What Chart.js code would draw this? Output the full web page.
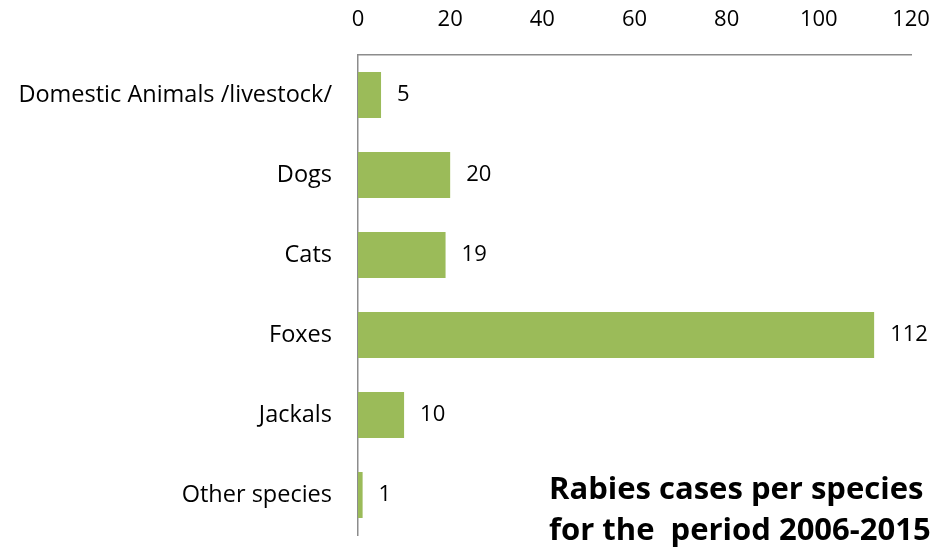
<!DOCTYPE html>
<html>
<head>
<meta charset="utf-8">
<script src="https://cdn.jsdelivr.net/npm/chart.js@4"></script>
<style>
    html, body { margin: 0; padding: 0; background: #fff; overflow: hidden; }
    #wrap { position: relative; width: 946px; height: 548px; overflow: hidden; }
    #title {
        position: absolute; left: 549px; top: 467px;
        font-family: "Open Sans", sans-serif; font-weight: bold;
        font-size: 31px; line-height: 41px; color: #000; white-space: pre;
    }
</style>
</head>
<body>
<div id="wrap">
    <canvas id="chart" width="946" height="548"></canvas>
    <div id="title">Rabies cases per species
for the  period 2006-2015</div>
</div>
<script>
// Data
const species = ['Domestic Animals /livestock/', 'Dogs', 'Cats', 'Foxes', 'Jackals', 'Other species'];
const cases = [5, 20, 19, 112, 10, 1];
const axisMin = 0;
const axisMax = 120;
const axisStep = 20;

const fontFamily = '"Open Sans", sans-serif';
const axisColor = '#8c8c8c';

// Value labels next to each bar
const valueLabels = {
    id: 'valueLabels',
    afterDatasetsDraw(chart) {
        const ctx = chart.ctx;
        const meta = chart.getDatasetMeta(0);
        ctx.save();
        ctx.font = '22px ' + fontFamily;
        ctx.fillStyle = '#000';
        ctx.textAlign = 'left';
        ctx.textBaseline = 'middle';
        meta.data.forEach((bar, i) => {
            ctx.fillText(String(cases[i]), bar.x + 16, bar.y);
        });
        ctx.restore();
    }
};

new Chart(document.getElementById('chart'), {
    type: 'bar',
    data: {
        labels: species,
        datasets: [{
            data: cases,
            backgroundColor: '#9bbb59',
            borderWidth: 0,
            categoryPercentage: 1,
            barPercentage: 0.575
        }]
    },
    options: {
        indexAxis: 'y',
        responsive: false,
        animation: false,
        layout: { padding: { top: 0, right: 35, bottom: 13, left: 0 } },
        plugins: {
            legend: { display: false },
            tooltip: { enabled: false }
        },
        scales: {
            x: {
                position: 'top',
                min: axisMin,
                max: axisMax,
                ticks: {
                    stepSize: axisStep,
                    padding: 22,
                    color: '#000',
                    font: { family: fontFamily, size: 22 }
                },
                grid: { display: false, drawTicks: false },
                border: { color: axisColor, width: 1.5 },
                afterFit(scale) {
                    scale.height = 55;
                    scale.paddingLeft = 0;
                    scale.paddingRight = 0;
                }
            },
            y: {
                ticks: {
                    padding: 26,
                    color: '#000',
                    font: { family: fontFamily, size: 23.5 }
                },
                grid: { display: false, drawTicks: false },
                border: { color: axisColor, width: 1.5 },
                afterFit(scale) {
                    scale.width = 358;
                    scale.paddingTop = 0;
                    scale.paddingBottom = 0;
                }
            }
        }
    },
    plugins: [valueLabels]
});
</script>
</body>
</html>
